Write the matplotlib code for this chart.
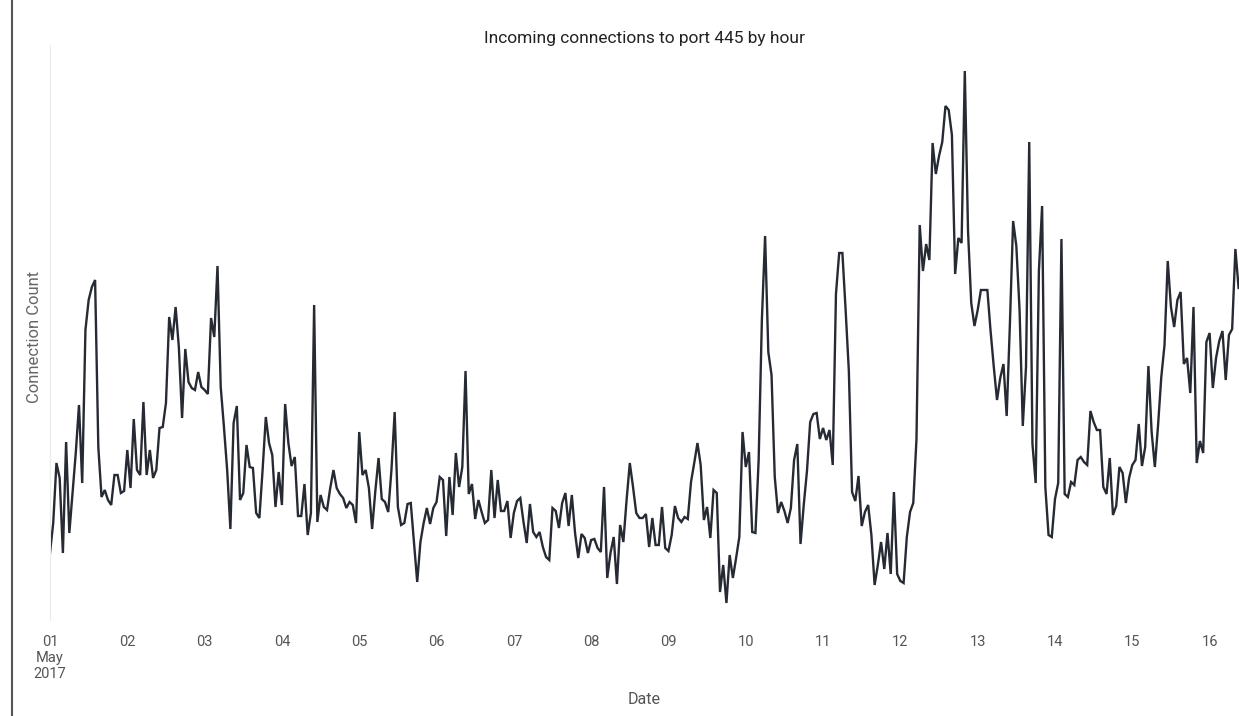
import numpy as np
import pandas as pd
import matplotlib
matplotlib.use("Agg")
import matplotlib.pyplot as plt
import matplotlib.dates as mdates
from matplotlib.lines import Line2D

plt.rcParams['font.family'] = ['Roboto', 'DejaVu Sans']

# hourly connection counts, one list per day (May 2017)
may01 = [87, 117, 177, 162, 87, 198, 107, 147, 187, 235, 157, 310, 340, 353, 360, 193, 143, 150, 140, 135, 165, 165, 147, 149]
may02 = [190, 152, 221, 170, 165, 238, 165, 190, 162, 170, 212, 213, 237, 323, 300, 333, 293, 222, 291, 258, 252, 250, 268, 253]
may03 = [250, 246, 322, 303, 374, 253, 213, 170, 111, 217, 234, 140, 147, 195, 173, 172, 127, 122, 170, 223, 197, 185, 133, 168]
may04 = [135, 236, 197, 174, 183, 124, 124, 156, 105, 127, 335, 118, 145, 133, 130, 152, 170, 152, 146, 142, 132, 138, 135, 117]
may05 = [208, 165, 170, 152, 111, 149, 182, 141, 138, 128, 170, 228, 133, 115, 117, 136, 137, 98, 58, 98, 117, 132, 116, 132]
may06 = [138, 163, 160, 104, 163, 125, 187, 153, 173, 269, 146, 156, 121, 140, 128, 117, 120, 170, 122, 160, 129, 129, 139, 102]
may07 = [127, 139, 142, 118, 97, 136, 108, 103, 108, 93, 83, 80, 132, 129, 112, 137, 147, 114, 145, 107, 82, 106, 102, 87]
may08 = [100, 101, 92, 88, 153, 62, 87, 103, 56, 115, 98, 140, 177, 153, 127, 122, 122, 126, 93, 122, 95, 95, 133, 92]
may09 = [89, 105, 134, 122, 118, 123, 121, 158, 177, 197, 175, 120, 133, 102, 150, 147, 48, 75, 37, 85, 62, 82, 103, 208]
may10 = [173, 188, 108, 107, 180, 320, 404, 288, 265, 163, 127, 138, 129, 117, 132, 180, 196, 96, 135, 169, 218, 226, 227, 201]
may11 = [212, 200, 210, 175, 346, 387, 387, 330, 269, 148, 139, 164, 114, 128, 135, 105, 55, 75, 98, 71, 107, 66, 148, 66]
may12 = [59, 57, 103, 128, 137, 201, 415, 369, 396, 380, 497, 466, 484, 498, 534, 530, 505, 366, 402, 397, 569, 409, 337, 314]
may13 = [330, 350, 350, 350, 309, 273, 240, 262, 276, 224, 316, 419, 394, 330, 214, 273, 498, 196, 157, 369, 434, 153, 105, 103]
may14 = [141, 157, 401, 146, 143, 158, 155, 180, 183, 178, 175, 229, 218, 210, 210, 153, 146, 182, 125, 134, 173, 167, 137, 162]
may15 = [175, 180, 216, 174, 193, 274, 208, 173, 215, 263, 295, 379, 333, 313, 340, 348, 276, 282, 247, 333, 177, 199, 187, 298]
may16 = [307, 252, 282, 299, 309, 260, 305, 311, 391, 352]

counts = (may01 + may02 + may03 + may04 + may05 + may06 + may07 + may08 +
          may09 + may10 + may11 + may12 + may13 + may14 + may15 + may16)
hours = pd.date_range("2017-05-01 00:00", periods=len(counts), freq="h")

W, H = 1239, 716
fig = plt.figure(figsize=(W / 100, H / 100), dpi=100)
ax = fig.add_axes([50 / W, 1 - 620 / H, (1238.6 - 50) / W, (620 - 45) / H])

ax.plot(hours, counts, color="#262a33", lw=1.7, solid_joinstyle="miter")
ax.set_xlim(hours[0], hours[-1])
ax.set_ylim(20, 595)

for s in ["top", "right", "bottom"]:
    ax.spines[s].set_visible(False)
ax.spines["left"].set_color("#ececec")
ax.spines["left"].set_linewidth(0.8)
ax.set_yticks([])

ax.xaxis.set_major_locator(mdates.DayLocator())
def fmt(x, pos):
    d = mdates.num2date(x)
    if d.day == 1:
        return "01\nMay\n2017"
    return d.strftime("%d")
ax.xaxis.set_major_formatter(plt.FuncFormatter(fmt))
ax.tick_params(axis="x", length=0, pad=11, labelsize=10.5, labelcolor="#555555")
ax.set_xticks([mdates.date2num(hours[0])], minor=True)
ax.tick_params(axis="x", which="minor", length=4, width=1, color="#888888", pad=0)
for lab in ax.get_xticklabels():
    lab.set_linespacing(1.15)

fig.text(644.5 / W, 1 - 38 / H, "Incoming connections to port 445 by hour",
         ha="center", va="center", fontsize=12.5, color="#222222")
fig.text(35 / W, 1 - 337 / H, "Connection Count", rotation=90,
         ha="center", va="center", fontsize=12, color="#666666")
fig.text(644.5 / W, 1 - 700 / H, "Date", ha="center", va="center",
         fontsize=11.5, color="#555555")

fig.add_artist(Line2D([12 / W, 12 / W], [0, 1], color="#555555", lw=1.5,
                      transform=fig.transFigure))

fig.savefig("out.png", dpi=100)
